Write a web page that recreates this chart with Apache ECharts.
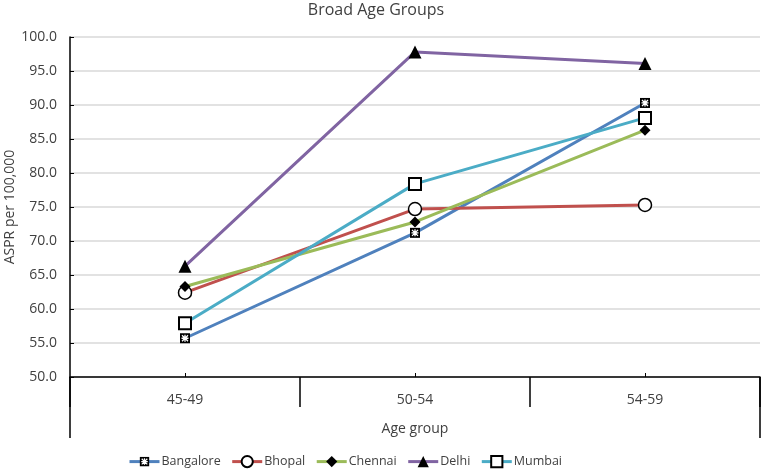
<!DOCTYPE html>
<html><head><meta charset="utf-8">
<script src="https://cdn.jsdelivr.net/npm/echarts@6/dist/echarts.min.js"></script>
<style>html,body{margin:0;padding:0;background:#fff}#c{width:761px;height:469px}</style>
</head><body><div id="c"></div>
<script>
const categories = ['45-49', '50-54', '54-59'];
const bangalore = [55.7, 71.2, 90.3];
const bhopal = [62.4, 74.7, 75.3];
const chennai = [63.3, 72.8, 86.3];
const delhi = [66.3, 97.8, 96.1];
const mumbai = [57.9, 78.4, 88.1];
const yTicks = {min: 50, max: 100, interval: 5};

const FONT = '"Open Sans", "Noto Sans", sans-serif';
const TXT = '#404040';
const svg = s => 'image://data:image/svg+xml;charset=utf-8,' + encodeURIComponent(s);
const starBox = svg('<svg xmlns="http://www.w3.org/2000/svg" width="12" height="12"><rect x="1" y="1" width="10" height="10" fill="#000"/><path d="M3 3L9 9M9 3L3 9M6 2.5V9.5M2.5 6H9.5" stroke="#fff" stroke-width="1.3"/></svg>');

function mk(name, data, color, symbol, size, itemStyle) {
  return {name, type: 'line', data, xAxisIndex: 0, symbol, symbolSize: size,
    lineStyle: {color, width: 3}, itemStyle: Object.assign({color}, itemStyle || {}),
    z: 3};
}

const chart = echarts.init(document.getElementById('c'), null, {renderer: 'canvas'});
chart.setOption({
  animation: false,
  textStyle: {fontFamily: FONT},
  title: {text: 'Broad Age Groups', left: 376, textAlign: 'center', top: 2, padding: 0,
    textStyle: {fontFamily: FONT, fontSize: 16, fontWeight: 'normal', color: TXT}},
  grid: {left: 70, right: 1, top: 37, bottom: 92, containLabel: false, outerBoundsMode: 'none'},
  legend: {top: 455, left: 128, itemWidth: 30, itemHeight: 14, itemGap: 10, padding: 0,
    lineStyle: {width: 3},
    textStyle: {fontFamily: FONT, fontSize: 12.5, color: TXT, padding: [0, 0, 0, -3]},
    data: ['Bangalore', 'Bhopal', 'Chennai', 'Delhi', 'Mumbai']},
  xAxis: [
    {type: 'category', data: categories, boundaryGap: true, position: 'bottom',
     name: 'Age group', nameLocation: 'middle', nameGap: 45, nameMoveOverlap: false,
     nameTextStyle: {fontFamily: FONT, fontSize: 14, color: TXT},
     axisLine: {lineStyle: {color: '#000', width: 1.5}},
     axisTick: {show: true, length: 30, lineStyle: {color: '#000', width: 1.5}},
     axisLabel: {fontFamily: FONT, fontSize: 14, color: TXT, margin: 16}},
    {type: 'category', data: categories, boundaryGap: true, position: 'bottom',
     axisLine: {show: false}, axisLabel: {show: false},
     axisTick: {show: true, alignWithLabel: true, inside: true, length: 4, lineStyle: {color: '#000'}}},
    {type: 'value', min: 0, max: 1, interval: 1, position: 'bottom',
     axisLine: {show: false}, axisLabel: {show: false}, splitLine: {show: false},
     axisTick: {show: true, length: 61, lineStyle: {color: '#000', width: 1.5}}}
  ],
  yAxis: {type: 'value', min: yTicks.min, max: yTicks.max, interval: yTicks.interval,
    name: 'ASPR per 100,000', nameLocation: 'middle', nameGap: 53, nameRotate: 90,
    nameMoveOverlap: false,
    nameTextStyle: {fontFamily: FONT, fontSize: 14, color: TXT},
    axisLine: {show: true, lineStyle: {color: '#000', width: 1.5}},
    axisTick: {show: true, inside: true, length: 4, lineStyle: {color: '#000'}},
    axisLabel: {fontFamily: FONT, fontSize: 14, color: TXT, margin: 13,
      formatter: v => v.toFixed(1)},
    splitLine: {lineStyle: {color: '#D9D9D9', width: 1.5}}},
  series: [
    mk('Bangalore', bangalore, '#4F81BD', starBox, 12),
    mk('Bhopal', bhopal, '#C0504D', 'circle', 13, {color: '#fff', borderColor: '#000', borderWidth: 1.5}),
    mk('Chennai', chennai, '#9BBB59', 'diamond', 11, {color: '#000', borderColor: '#000', borderWidth: 0}),
    mk('Delhi', delhi, '#8064A2', 'triangle', 13, {color: '#000', borderColor: '#000', borderWidth: 0}),
    mk('Mumbai', mumbai, '#4BACC6', 'rect', 12, {color: '#fff', borderColor: '#000', borderWidth: 2})
  ]
});
</script></body></html>
